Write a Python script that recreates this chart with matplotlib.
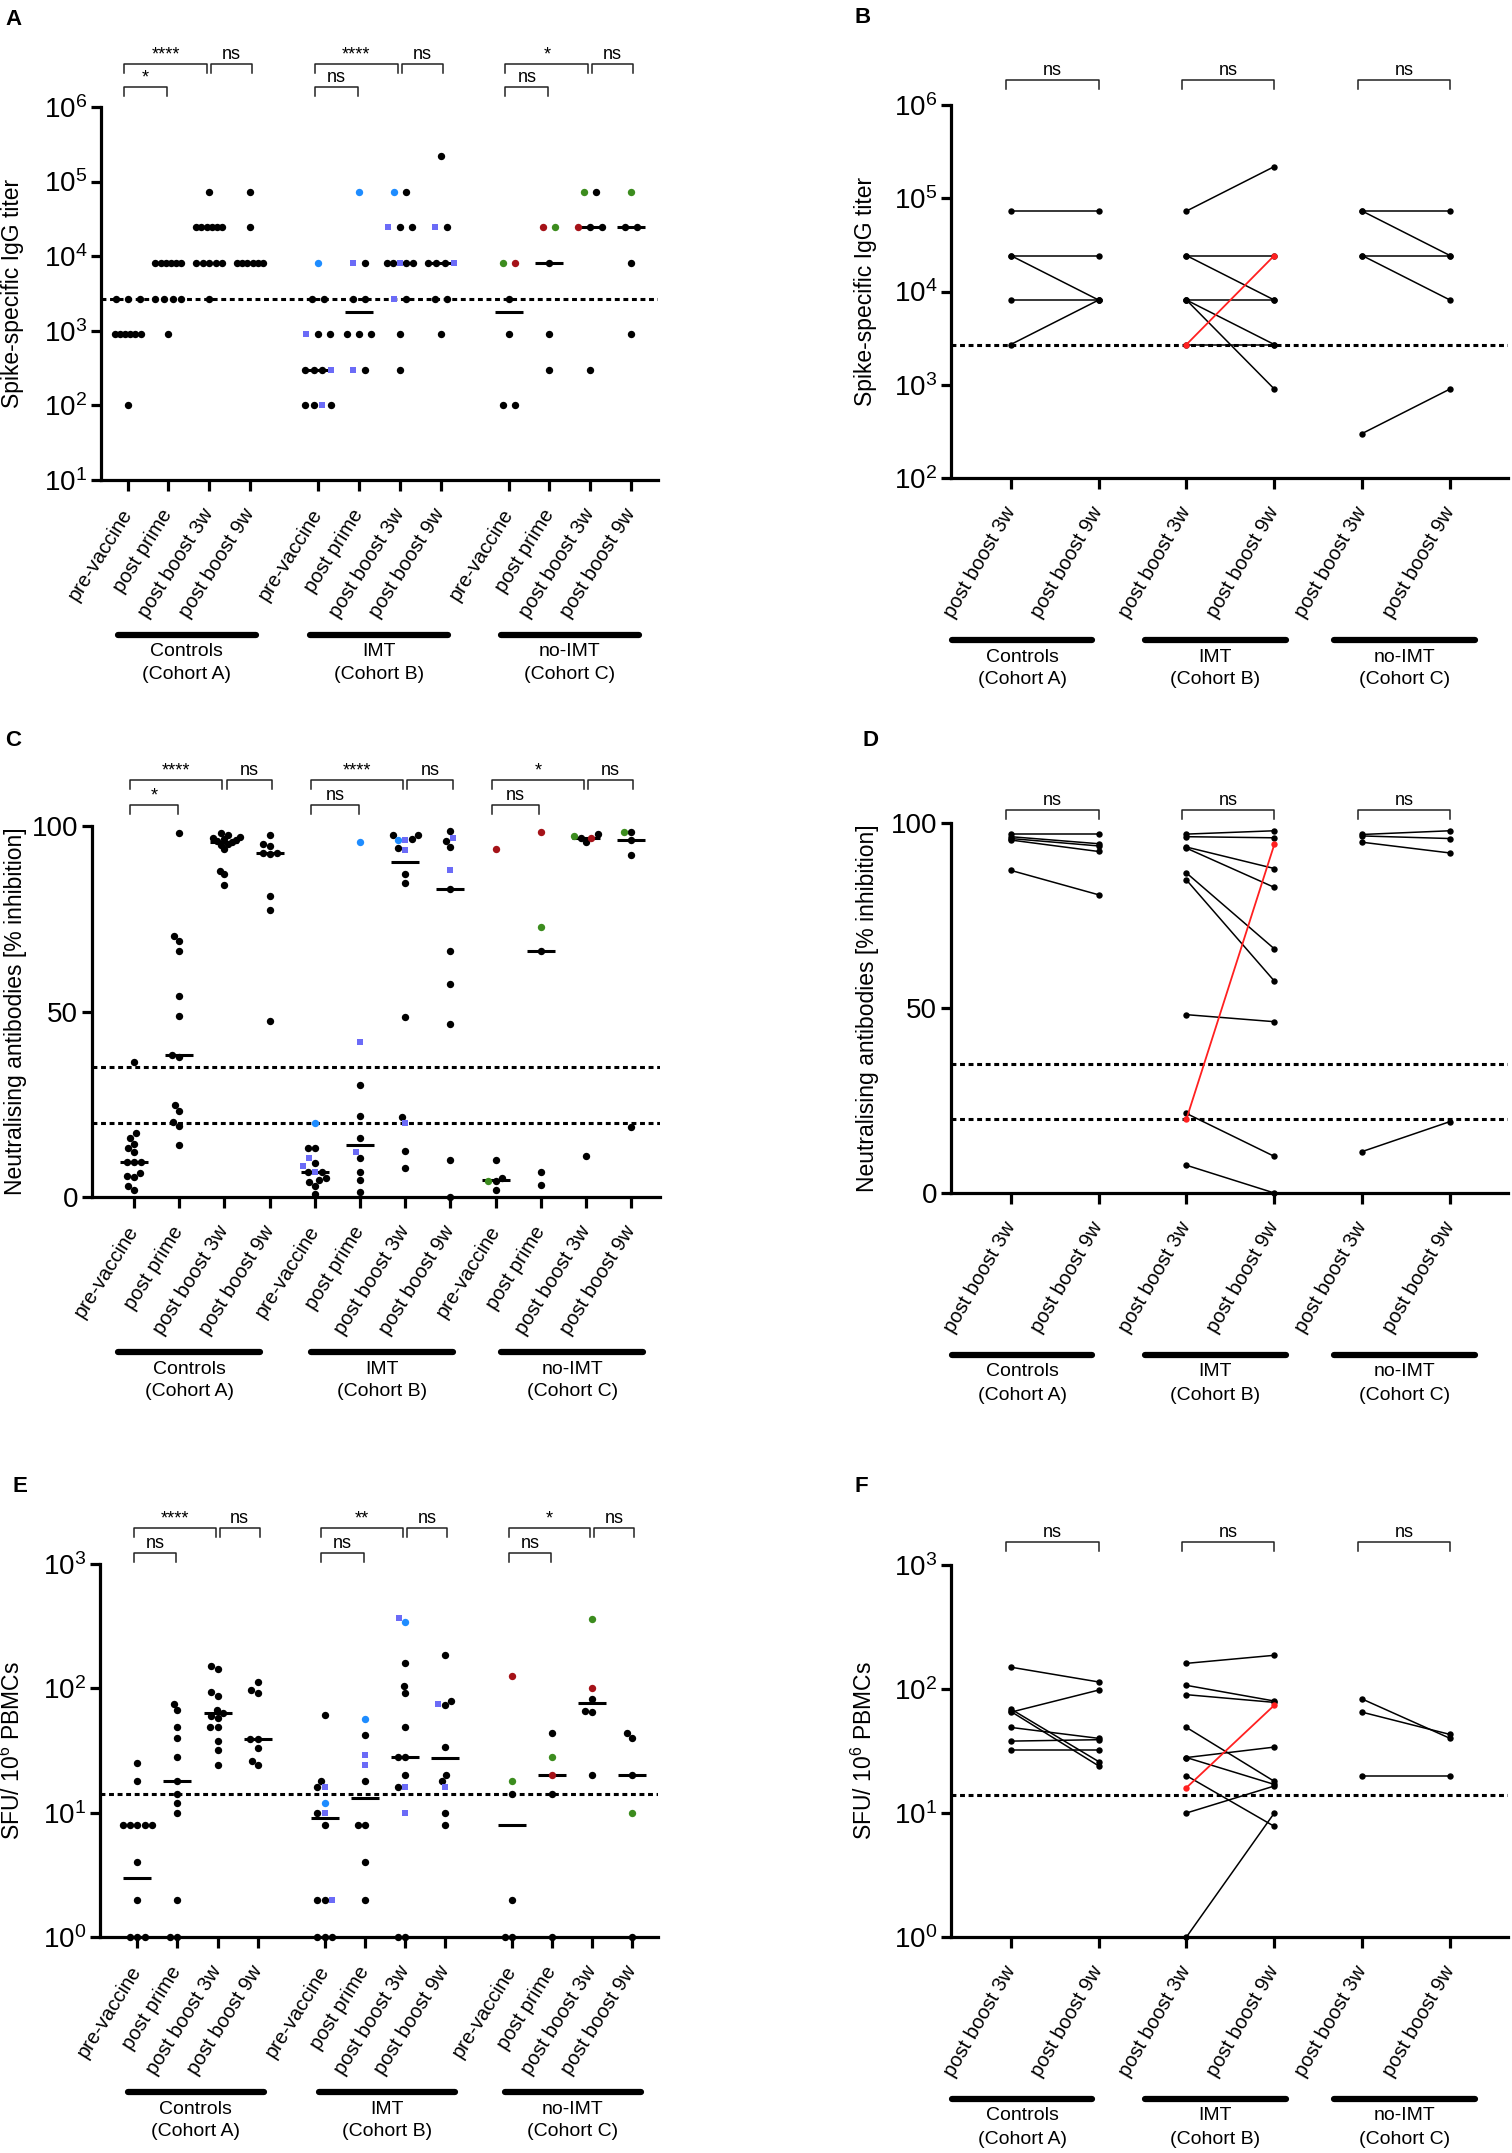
import numpy as np
import matplotlib
matplotlib.use('Agg')
import matplotlib.pyplot as plt
import matplotlib.transforms as mtrans
from matplotlib.ticker import NullLocator, FixedLocator

plt.rcParams['font.family'] = ['Liberation Sans', 'DejaVu Sans']
plt.rcParams['mathtext.fontset'] = 'custom'
plt.rcParams['mathtext.rm'] = 'Liberation Sans'
plt.rcParams['mathtext.it'] = 'Liberation Sans:italic'
plt.rcParams['mathtext.bf'] = 'Liberation Sans:bold'

# ---------------- data ----------------
time_labels = ['pre-vaccine', 'post prime', 'post boost 3w', 'post boost 9w']
pair_labels = ['post boost 3w', 'post boost 9w']
cohort_names = ['Controls', 'IMT', 'no-IMT']
cohort_subs = ['(Cohort A)', '(Cohort B)', '(Cohort C)']

# kinds: k black, b blue circle, s blue square, r red, g green
igg_values = [
    [2700] * 3 + [900] * 6 + [100],
    [8100] * 6 + [2700] * 4 + [900],
    [72900] + [24300] * 6 + [8100] * 5 + [2700],
    [72900, 24300] + [8100] * 6,
    [8100, 2700, 2700, 900, 900, 900, 300, 300, 300, 300, 100, 100, 100, 100],
    [72900, 8100, 8100, 2700, 2700, 900, 900, 900, 300, 300],
    [72900, 72900, 24300, 24300, 24300, 8100, 8100, 8100, 8100, 8100, 2700, 2700, 900, 300],
    [218700, 24300, 24300, 8100, 8100, 8100, 8100, 2700, 2700, 900],
    [8100, 8100, 2700, 900, 100, 100],
    [24300, 24300, 8100, 900, 300],
    [72900, 72900, 24300, 24300, 24300, 300],
    [72900, 24300, 24300, 8100, 900],
]
igg_kinds = ['k' * 10, 'k' * 11, 'k' * 13, 'k' * 8,
             'bkkskkkkkskksk', 'bskkkkkksk', 'bkskkkkskkskkk', 'kskkkkskkk',
             'grkkkk', 'rgkkk', 'gkrkkk', 'gkkkk']
igg_medians = [900, 8100, 24300, 8100, 300, 1800, 8100, 8100, 1800, 8100, 24300, 24300]
igg_sig = [['*', '****', 'ns'], ['ns', '****', 'ns'], ['ns', '*', 'ns']]
igg_cutoff = [2700]

nab_values = [
    [36.5, 17.2, 15.9, 14.3, 13.3, 12.2, 9.3, 9.3, 9.3, 6.5, 5.6, 5.4, 2.9, 2.0],
    [98, 70.4, 69, 66.3, 54.3, 48.9, 38.2, 37.8, 24.9, 23.3, 20.2, 19.2, 13.9],
    [98, 97.5, 97, 96.8, 96.5, 96.2, 96, 95.6, 95.2, 95, 93.8, 87.9, 87, 84.2],
    [97.6, 95.1, 94.7, 92.8, 92.4, 92.8, 81.1, 77.4, 47.4],
    [19.9, 13.1, 13.1, 10.4, 9.1, 8.4, 6.8, 6.8, 6.8, 5.0, 4.5, 4.1, 2.9, 0.9],
    [95.8, 41.7, 30.1, 21.7, 15.9, 12.0, 10.4, 6.8, 4.5, 1.4],
    [97.6, 97.6, 96.5, 96.2, 96.2, 94.2, 93.5, 87.0, 84.7, 48.5, 21.6, 19.9, 12.5, 7.7],
    [98.6, 96.7, 96.0, 94.4, 88.1, 83.0, 66.3, 57.5, 46.6, 10.0, 0],
    [93.8, 10.0, 5.0, 4.3, 4.3, 2.0],
    [98.3, 72.9, 66.3, 6.8, 3.2],
    [97.4, 96.9, 97.8, 96.9, 95.6, 11.1],
    [98.3, 98.3, 96.2, 92.2, 19.0],
]
nab_kinds = ['k' * 14, 'k' * 13, 'k' * 14, 'k' * 9,
             'bkksksskkkkkkk', 'bskkkskkkk', 'kkksbkskkkkskk', 'kskkskkkkkk',
             'rkkkgk', 'rgkkk', 'gkkrkk', 'kgkkk']
nab_medians = [9.3, 38.2, 95.8, 92.8, 6.8, 13.95, 90.2, 83.0, 4.65, 66.3, 96.9, 96.2]
nab_sig = [['*', '****', 'ns'], ['ns', '****', 'ns'], ['ns', '*', 'ns']]
nab_cutoff = [35, 20]

sfu_values = [
    [25, 18, 8, 8, 8, 8, 8, 4, 2, 1, 1, 1],
    [75, 67, 49, 40, 28, 18, 14, 12, 10, 2, 1, 1],
    [150, 144, 93, 87, 67, 63, 60, 58, 49, 49, 38, 32, 24],
    [113, 97, 91, 39, 39, 33, 26, 24],
    [61, 18, 16, 16, 12, 10, 10, 8, 2, 2, 2, 1, 1, 1],
    [57, 42, 29, 24, 18, 8, 8, 4, 2],
    [341, 366, 159, 105, 92, 49, 28, 28, 20, 16, 16, 10, 1, 1],
    [185, 79, 75, 74, 34, 20, 18, 16, 10, 8],
    [125, 18, 14, 2, 1, 1],
    [44, 28, 20, 14, 1],
    [360, 101, 82, 66, 65, 20],
    [44, 40, 20, 10, 1],
]
sfu_kinds = ['k' * 12, 'k' * 12, 'k' * 13, 'k' * 8,
             'kkskbskkkkskkk', 'bksskkkkk', 'bskkkkkkkskskk', 'kkskkkkskk',
             'rgkkkk', 'kgrkk', 'grkkkk', 'kkkgk']
sfu_medians = [3, 18, 63, 39, 9, 13, 28, 27.5, 8, 20, 76, 20]
sfu_sig = [['ns', '****', 'ns'], ['ns', '**', 'ns'], ['ns', '*', 'ns']]
sfu_cutoff = [14]

# paired (post boost 3w, post boost 9w)
igg_pairs = [
    [(72900, 72900), (24300, 24300), (24300, 8100), (8100, 8100), (2700, 8100)],
    [(72900, 218700), (24300, 24300), (24300, 8100), (8100, 8100), (8100, 2700), (8100, 900), (2700, 2700)],
    [(72900, 72900), (72900, 24300), (24300, 24300), (24300, 8100), (300, 900)],
]
igg_red = (2700, 24300)
nab_pairs = [
    [(96.9, 96.9), (96.3, 94.4), (95.4, 92.3), (95.8, 93.8), (87.2, 80.6)],
    [(97, 97.9), (96.3, 96), (93.5, 87.7), (93.2, 82.6), (86.5, 66), (84.6, 57.3),
     (48.2, 46.3), (21.5, 9.9), (7.5, 0)],
    [(96.9, 97.9), (96.5, 95.8), (94.8, 91.9), (11.2, 19.3)],
]
nab_red = (20, 94.2)
sfu_pairs = [
    [(150, 114), (65, 98), (69, 26), (66, 24), (49, 40), (38, 39), (32, 32)],
    [(161, 187), (107, 80), (90, 78), (49, 18), (28, 34), (28, 17), (20, 7.8), (10, 16.5), (1, 10)],
    [(83, 40), (65, 43), (20, 20)],
]
sfu_red = (16, 74)

# ---------------- helpers ----------------
W, H = 1512, 2153
fig = plt.figure(figsize=(W / 100, H / 100), dpi=100)

STYLE = {'k': ('o', '#000000', 5.3), 'b': ('o', '#1e8cff', 5.3), 's': ('s', '#6b6bf7', 4.9),
         'r': ('o', '#a51218', 5.3), 'g': ('o', '#3c8c1e', 5.3)}


def add_ax(l, r, t, b):
    ax = fig.add_axes([l / W, 1 - b / H, (r - l) / W, (b - t) / H])
    ax.spines['top'].set_visible(False)
    ax.spines['right'].set_visible(False)
    ax.spines['left'].set_linewidth(2.3)
    ax.spines['bottom'].set_linewidth(2.3)
    ax.tick_params(axis='both', width=2.3, length=7, labelsize=20, pad=3)
    return ax


def ax_px(ax):
    bb = ax.get_position()
    return bb.width * W, bb.height * H


def px_per_unit(ax):
    a = ax.transData.transform([(0, 1), (1, 1)])
    return a[1, 0] - a[0, 0]


def row_offsets(vals):
    offs = np.zeros(len(vals))
    for v in set(vals):
        idx = [j for j, w in enumerate(vals) if w == v]
        n = len(idx)
        if n > 1:
            step = min(12, 26 / (n - 1))
            for k, j in enumerate(idx):
                offs[j] = (k - (n - 1) / 2) * step
    return offs


def swarm_offsets(ax, vals, d=7.2, cap=16):
    ys = ax.transData.transform(np.column_stack([np.ones(len(vals)), vals]))[:, 1]
    offs = np.zeros(len(vals))
    placed = []
    for j in np.argsort(ys, kind='stable'):
        y = ys[j]
        near = [(px, py) for px, py in placed if abs(py - y) < d]
        cands = [0.0]
        for px, py in near:
            dx = np.sqrt(d * d - (py - y) ** 2)
            cands += [px + dx, px - dx]
        cands.sort(key=lambda c: (abs(c), c))
        c = 0.0
        for c in cands:
            if all((c - px) ** 2 + (y - py) ** 2 >= d * d - 1e-6 for px, py in near):
                break
        offs[j] = c
        placed.append((c, y))
    widest = np.abs(offs).max()
    if widest > cap:
        offs = offs * cap / widest
    return offs


def bracket(ax, x0, x1, dy, text):
    h = ax_px(ax)[1]
    tr = mtrans.blended_transform_factory(ax.transData, ax.transAxes)
    y = 1 + dy / h
    leg = 9 / h
    ax.plot([x0, x0, x1, x1], [y - leg, y, y, y - leg], color='#222222', lw=1.1,
            transform=tr, clip_on=False)
    ax.text((x0 + x1) / 2, y + 1 / h, text, ha='center', va='bottom', fontsize=13,
            transform=tr)


def group_bars(ax, centers, hw, dy):
    h = ax_px(ax)[1]
    tr = mtrans.blended_transform_factory(ax.transData, ax.transAxes)
    for c, name, sub in zip(centers, cohort_names, cohort_subs):
        ax.plot([c - hw, c + hw], [-dy / h, -dy / h], color='k', lw=4.5,
                solid_capstyle='round', transform=tr, clip_on=False)
        ax.text(c, -(dy + 17) / h, name, ha='center', va='center', fontsize=14, transform=tr)
        ax.text(c, -(dy + 40) / h, sub, ha='center', va='center', fontsize=14, transform=tr)


def scatter_panel(ax, values, kinds, medians, xpos, layout, log, ylim, cutoffs,
                  sig, tops, bar_centers, bar_hw, ylabel, ylabel_x):
    if log:
        ax.set_yscale('log')
    ax.set_ylim(*ylim)
    ax.set_xlim(xpos[0] - 0.65 * (xpos[1] - xpos[0]) if layout == 'rows' else -0.93,
                xpos[-1] + (0.66 if layout == 'rows' else 0.64))
    if log:
        ax.yaxis.set_minor_locator(NullLocator())
    else:
        ax.yaxis.set_major_locator(FixedLocator([0, 50, 100]))
    ppu = px_per_unit(ax)
    for c in cutoffs:
        ax.axhline(c, color='k', lw=2.2, ls=(0, (1.6, 1.2)), zorder=1)
    for i, (vals, ks) in enumerate(zip(values, kinds)):
        x0 = xpos[i]
        offs = row_offsets(vals) if layout == 'rows' else swarm_offsets(ax, vals)
        xs = x0 + offs / ppu
        hw = 14 / ppu
        ax.plot([x0 - hw, x0 + hw], [medians[i], medians[i]], color='k', lw=2.2,
                solid_capstyle='butt', zorder=2)
        vals = np.array(vals, dtype=float)
        for kd, (mk, col, ms) in STYLE.items():
            m = np.array([k == kd for k in ks])
            if m.any():
                ax.plot(xs[m], vals[m], ls='none', marker=mk, color=col, ms=ms,
                        mew=0, clip_on=False, zorder=3 if kd == 'k' else 4)
    ax.set_xticks(xpos)
    ax.set_xticklabels(time_labels * 3, rotation=58, ha='right', va='center',
                       rotation_mode='anchor', fontsize=14.5)
    ax.tick_params(axis='x', length=8, pad=14)
    for g in range(3):
        a, b, c, d = xpos[4 * g:4 * g + 4]
        bracket(ax, a - 0.08, b - 0.03, tops[1], sig[g][0])
        bracket(ax, a - 0.08, c - 0.05, tops[0], sig[g][1])
        bracket(ax, c + 0.05, d + 0.05, tops[0], sig[g][2])
    group_bars(ax, bar_centers, bar_hw, 155)
    ax.set_ylabel(ylabel, fontsize=16.5)
    ax.yaxis.set_label_coords(ylabel_x, 0.5)


def pair_panel(ax, pairs, red, log, ylim, cutoffs, top, ylabel, ylabel_x):
    if log:
        ax.set_yscale('log')
        ax.yaxis.set_minor_locator(NullLocator())
    else:
        ax.yaxis.set_major_locator(FixedLocator([0, 50, 100]))
    ax.set_ylim(*ylim)
    ax.set_xlim(-0.68, 5.66)
    for c in cutoffs:
        ax.axhline(c, color='k', lw=2.2, ls=(0, (1.6, 1.2)), zorder=1)
    for g in range(3):
        for a, b in pairs[g]:
            ax.plot([2 * g, 2 * g + 1], [a, b], color='k', lw=1.1, marker='o', ms=4.6,
                    mew=0, clip_on=False, zorder=3)
        bracket(ax, 2 * g - 0.05, 2 * g + 1, top, 'ns')
    ax.plot([2, 3], list(red), color='#ff2020', lw=1.3, marker='o', ms=4.6, mew=0,
            clip_on=False, zorder=4)
    ax.set_xticks(range(6))
    ax.set_xticklabels(pair_labels * 3, rotation=60, ha='right', va='center',
                       rotation_mode='anchor', fontsize=14.5)
    ax.tick_params(axis='x', length=8, pad=14)
    group_bars(ax, [0.13, 2.33, 4.48], 0.8, 162)
    ax.set_ylabel(ylabel, fontsize=16.5)
    ax.yaxis.set_label_coords(ylabel_x, 0.5)


xpos_gap = [i + 0.67 * (i // 4) for i in range(12)]
xpos_even = list(range(12))

# ---------------- panels ----------------
axA = add_ax(101, 658, 107, 480)
scatter_panel(axA, igg_values, igg_kinds, igg_medians, xpos_gap, 'rows', True, (10, 1e6),
              igg_cutoff, igg_sig, (43, 19.5), [1.45, 6.17, 10.84], 1.69,
              'Spike-specific IgG titer', -0.138)

axB = add_ax(951, 1508, 105, 478)
pair_panel(axB, igg_pairs, igg_red, True, (100, 1e6), igg_cutoff, 25,
           'Spike-specific IgG titer', -0.133)

axC = add_ax(92, 660, 826, 1197)
scatter_panel(axC, nab_values, nab_kinds, nab_medians, xpos_even, 'swarm', False, (0, 100),
              nab_cutoff, nab_sig, (46, 21), [1.22, 5.49, 9.7], 1.57,
              'Neutralising antibodies [% inhibition]', -0.115)

axD = add_ax(951, 1508, 823, 1193)
pair_panel(axD, nab_pairs, nab_red, False, (0, 100), nab_cutoff, 13,
           'Neutralising antibodies [% inhibition]', -0.129)

axE = add_ax(100, 658, 1564, 1937)
scatter_panel(axE, sfu_values, sfu_kinds, sfu_medians, xpos_gap, 'swarm', True, (1, 1000),
              sfu_cutoff, sfu_sig, (36, 11), [1.46, 6.22, 10.86], 1.7,
              'SFU/ 10$^{6}$ PBMCs', -0.134)

axF = add_ax(951, 1508, 1565, 1937)
pair_panel(axF, sfu_pairs, sfu_red, True, (1, 1000), sfu_cutoff, 23,
           'SFU/ 10$^{6}$ PBMCs', -0.133)

for letter, x, y in [('A', 5, 9), ('B', 855, 7), ('C', 5, 730), ('D', 862, 730),
                     ('E', 12, 1476), ('F', 855, 1476)]:
    fig.text(x / W, 1 - y / H, letter, ha='left', va='top', fontsize=16, fontweight='bold')

fig.savefig('out.png', dpi=100)
